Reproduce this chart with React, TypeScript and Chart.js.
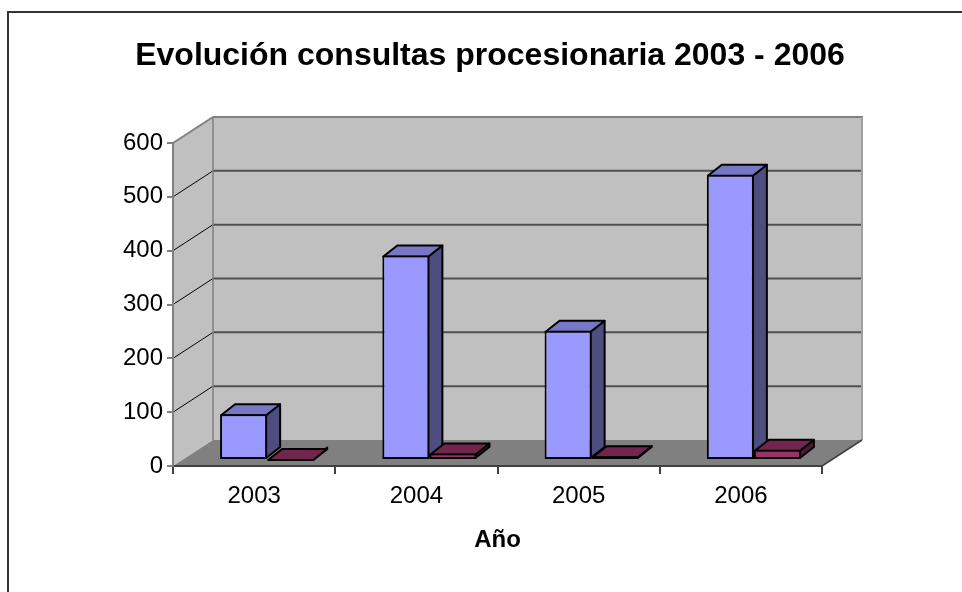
import React, { useEffect, useRef } from 'react';
import { Chart, registerables } from 'chart.js';

Chart.register(...registerables);

// ---- data ----
const categories = ['2003', '2004', '2005', '2006'];
const serie1Values = [85, 380, 240, 530];
const serie2Values = [1, 12, 7, 19];
const yMin = 0;
const yMax = 600;
const yStep = 100;
const titleText = 'Evolución consultas procesionaria 2003 - 2006';
const xAxisTitle = 'Año';

// ---- styles ----
const FONT = "'Liberation Sans', Arial, Helvetica, sans-serif";
const WALL_DX = 40;
const WALL_DY = -26;
const BAR_SHIFT_X = 13;
const BAR_SHIFT_Y = -6;
const BAR_DX = 14;
const BAR_DY = -11;
const faceColors = [
  { front: '#9999FF', top: '#7777C6', side: '#4D4D80' },
  { front: '#993366', top: '#73264D', side: '#4D1A33' },
];

function poly(ctx: CanvasRenderingContext2D, pts: number[][], fill?: string, stroke?: string, lw = 1) {
  ctx.beginPath();
  ctx.moveTo(pts[0][0], pts[0][1]);
  for (let i = 1; i < pts.length; i++) ctx.lineTo(pts[i][0], pts[i][1]);
  ctx.closePath();
  if (fill) {
    ctx.fillStyle = fill;
    ctx.fill();
  }
  if (stroke) {
    ctx.strokeStyle = stroke;
    ctx.lineWidth = lw;
    ctx.stroke();
  }
}

function line(ctx: CanvasRenderingContext2D, x1: number, y1: number, x2: number, y2: number, color: string, lw: number) {
  ctx.beginPath();
  ctx.moveTo(x1, y1);
  ctx.lineTo(x2, y2);
  ctx.strokeStyle = color;
  ctx.lineWidth = lw;
  ctx.stroke();
}

const wallsPlugin = {
  id: 'walls3d',
  beforeDraw(chart: any) {
    const { ctx } = chart;
    const xs = chart.scales.x;
    const ys = chart.scales.y;
    const L = xs.left;
    const R = xs.right;
    const T = ys.getPixelForValue(yMax);
    const B = ys.getPixelForValue(yMin);
    ctx.save();
    ctx.fillStyle = '#ffffff';
    ctx.fillRect(0, 0, chart.width, chart.height);
    // outer frame
    ctx.strokeStyle = '#333333';
    ctx.lineWidth = 2;
    ctx.strokeRect(8, 12, chart.width + 20, chart.height + 20);

    // left wall
    poly(ctx, [[L, T], [L + WALL_DX, T + WALL_DY], [L + WALL_DX, B + WALL_DY], [L, B]], '#C0C0C0');
    // back wall
    poly(ctx, [[L + WALL_DX, T + WALL_DY], [R + WALL_DX, T + WALL_DY], [R + WALL_DX, B + WALL_DY], [L + WALL_DX, B + WALL_DY]], '#C0C0C0');
    // floor
    poly(ctx, [[L, B], [R, B], [R + WALL_DX, B + WALL_DY], [L + WALL_DX, B + WALL_DY]], '#808080');

    // gridlines
    ys.ticks.forEach((t: any) => {
      const v = t.value;
      if (v <= yMin || v >= yMax) return;
      const py = ys.getPixelForValue(v);
      line(ctx, L + WALL_DX, py + WALL_DY, R + WALL_DX, py + WALL_DY, '#505050', 2);
      line(ctx, L, py, L + WALL_DX, py + WALL_DY, '#000000', 1);
    });

    // edges
    line(ctx, L + WALL_DX, T + WALL_DY, L + WALL_DX, B + WALL_DY, '#808080', 1.5);
    line(ctx, L, T, L + WALL_DX, T + WALL_DY, '#808080', 2);
    line(ctx, L + WALL_DX, T + WALL_DY, R + WALL_DX + 1, T + WALL_DY, '#808080', 2);
    line(ctx, R + WALL_DX, T + WALL_DY, R + WALL_DX, B + WALL_DY, '#A0A0A0', 2);
    line(ctx, R, B, R + WALL_DX, B + WALL_DY, '#404040', 1.5);
    ctx.restore();
  },
  afterDraw(chart: any) {
    const { ctx } = chart;
    ctx.save();
    ctx.fillStyle = '#000000';
    ctx.font = `bold 32px ${FONT}`;
    ctx.textAlign = 'center';
    ctx.textBaseline = 'alphabetic';
    ctx.fillText(titleText, 490, 65);
    ctx.restore();
  },
};

const bars3dPlugin = {
  id: 'bars3d',
  beforeDatasetsDraw(chart: any) {
    const { ctx } = chart;
    ctx.save();
    ctx.translate(BAR_SHIFT_X, BAR_SHIFT_Y);
    chart.data.datasets.forEach((_ds: any, di: number) => {
      const meta = chart.getDatasetMeta(di);
      const colors = faceColors[di];
      meta.data.forEach((bar: any) => {
        const { x, y, base, width } = bar.getProps(['x', 'y', 'base', 'width'], true);
        const x0 = x - width / 2 + 1;
        const x1 = x + width / 2 - 1;
        const yt = Math.min(y, base) + 1;
        const yb = Math.max(y, base) - 1;
        ctx.lineJoin = 'round';
        poly(ctx, [[x1, yt], [x1 + BAR_DX, yt + BAR_DY], [x1 + BAR_DX, yb + BAR_DY], [x1, yb]], colors.side, '#000000', 2);
        poly(ctx, [[x0, yt], [x1, yt], [x1 + BAR_DX, yt + BAR_DY], [x0 + BAR_DX, yt + BAR_DY]], colors.top, '#000000', 2);
      });
    });
  },
  afterDatasetsDraw(chart: any) {
    chart.ctx.restore();
  },
};

export default function App() {
  const ref = useRef<HTMLCanvasElement>(null);
  useEffect(() => {
    Chart.defaults.font.family = FONT;
    const chart = new Chart(ref.current as HTMLCanvasElement, {
      type: 'bar',
      data: {
        labels: categories,
        datasets: [
          {
            label: 'Serie 1',
            data: serie1Values,
            backgroundColor: faceColors[0].front,
            borderColor: '#000000',
            borderWidth: 2,
            borderSkipped: false,
            barPercentage: 1,
            categoryPercentage: 0.58,
            clip: false as any,
          },
          {
            label: 'Serie 2',
            data: serie2Values,
            backgroundColor: faceColors[1].front,
            borderColor: '#000000',
            borderWidth: 2,
            borderSkipped: false,
            barPercentage: 1,
            categoryPercentage: 0.58,
            clip: false as any,
          },
        ],
      },
      options: {
        responsive: false,
        animation: false,
        devicePixelRatio: 1,
        layout: { padding: { top: 143, right: 140, bottom: 0, left: 0 } },
        plugins: {
          legend: { display: false },
          title: { display: false },
          tooltip: { enabled: false },
        },
        events: [],
        scales: {
          x: {
            type: 'category',
            offset: true,
            grid: { offset: true, drawOnChartArea: false, drawTicks: true, tickLength: 8, color: '#404040', lineWidth: 2 },
            border: { display: true, color: '#404040', width: 2 },
            ticks: { color: '#000000', font: { size: 24, family: FONT }, padding: 8, maxRotation: 0 },
            title: {
              display: true,
              text: xAxisTitle,
              color: '#000000',
              font: { size: 24, weight: 'bold', family: FONT },
              padding: { top: 0, bottom: 37 },
            },
            afterFit: (scale: any) => {
              scale.height = 126;
            },
          },
          y: {
            min: yMin,
            max: yMax,
            grid: { drawOnChartArea: false, drawTicks: true, tickLength: 6, color: '#808080', lineWidth: 2 },
            border: { display: true, color: '#808080', width: 2 },
            ticks: { stepSize: yStep, color: '#000000', font: { size: 24, family: FONT }, padding: 4 },
            afterFit: (scale: any) => {
              scale.width = 173;
            },
          },
        },
      },
      plugins: [wallsPlugin, bars3dPlugin],
    } as any);
    return () => chart.destroy();
  }, []);
  return (
    <div style={{ position: 'absolute', left: 0, top: 0, width: 962, height: 592 }}>
      <canvas ref={ref} width={962} height={592} style={{ display: 'block', width: 962, height: 592 }} />
    </div>
  );
}
